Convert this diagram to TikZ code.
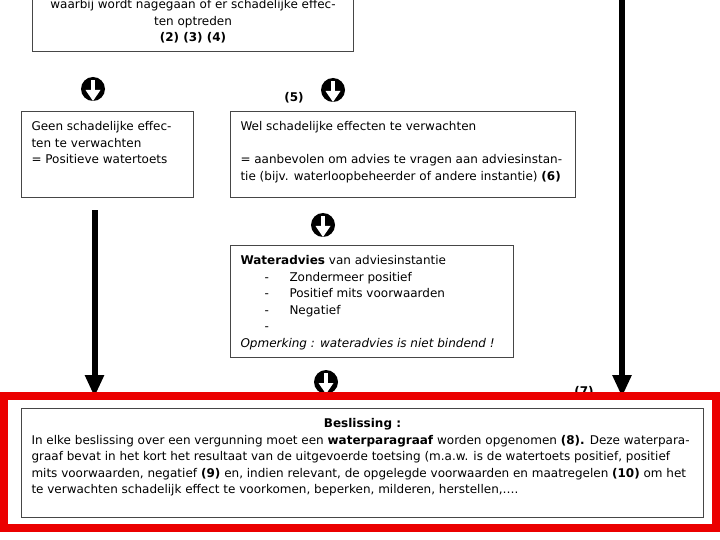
\documentclass[tikz,border=0pt]{standalone}
\usepackage{fontspec}
\setmainfont{DejaVu Sans}
\usetikzlibrary{positioning, arrows.meta}
\definecolor{framered}{RGB}{235,0,0}
\definecolor{boxgray}{RGB}{70,70,70}
\tikzset{
    infobox/.style={rectangle, draw=boxgray, line width=1bp, inner sep=10bp, anchor=north west, font=\fontsize{12bp}{16.5bp}\selectfont},
    downicon/.style={circle, fill=black, minimum size=24bp, inner sep=0pt, path picture={
        \fill[white] ([xshift=-2.2bp,yshift=9bp]path picture bounding box.center) rectangle ([xshift=2.2bp,yshift=-2bp]path picture bounding box.center);
        \fill[white] ([xshift=-7.5bp,yshift=-1bp]path picture bounding box.center) -- ([xshift=7.5bp,yshift=-1bp]path picture bounding box.center) -- ([yshift=-12bp]path picture bounding box.center) -- cycle;}},
    bigarrow/.style={line width=6bp, -{Triangle[width=18bp,length=22bp]}},
    numlabel/.style={font=\fontsize{12bp}{14bp}\selectfont\bfseries, inner sep=0pt}
}
\newcommand{\boxtext}[3]{\parbox[t][#1][t]{#2}{\raggedright #3}}
\newcommand{\dashitem}[1]{\hspace*{24bp}\makebox[25bp][l]{-}#1}

\begin{document}
\begin{tikzpicture}[x=1bp, y=-1bp]
    \useasboundingbox (0,0) rectangle (720,540);
    \clip (0,0) rectangle (720,540);

    \node (toets) [infobox, anchor=south, align=center, minimum width=320bp, inner ysep=8bp] at (193,52) {waarbij wordt nagegaan of er schadelijke effec-\\ten optreden\\\textbf{(2) (3) (4)}};

    \node (geen) [infobox] at (21,111) {\boxtext{66bp}{152bp}{Geen schadelijke effec-\\ten te verwachten\\= Positieve watertoets}};
    \node (wel) [infobox] at (230,111) {\boxtext{66bp}{325bp}{Wel schadelijke effecten te verwachten\\[16.5bp]= aanbevolen om advies te vragen aan adviesinstan-\\tie (bijv. waterloopbeheerder of andere instantie) \textbf{(6)}}};
    \node (advies) [infobox] at (230,245) {\boxtext{92bp}{263bp}{\textbf{Wateradvies} van adviesinstantie\\\dashitem{Zondermeer positief}\\\dashitem{Positief mits voorwaarden}\\\dashitem{Negatief}\\\dashitem{}\\\textit{Opmerking : wateradvies is niet bindend !}}};
    \node (besluit) [infobox] at (21,408) {\boxtext{89bp}{662bp}{\centerline{\textbf{Beslissing :}}In elke beslissing over een vergunning moet een \textbf{waterparagraaf} worden opgenomen \textbf{(8).} Deze waterpara-\\graaf bevat in het kort het resultaat van de uitgevoerde toetsing (m.a.w. is de watertoets positief, positief\\mits voorwaarden, negatief \textbf{(9)} en, indien relevant, de opgelegde voorwaarden en maatregelen \textbf{(10)} om het\\te verwachten schadelijk effect te voorkomen, beperken, milderen, herstellen,….}};

    \node (pijl1) [downicon] at (93,89) {};
    \node (pijl2) [downicon] at (333,90) {};
    \node (nr5) [numlabel] at (294,98) {(5)};
    \node (pijl3) [downicon] at (323,225) {};
    \node (pijl4) [downicon] at (326,382) {};
    \node (nr7) [numlabel] at (584,392) {(7)};

    \coordinate (bron) at (622,-5);
    \draw [bigarrow, shorten >=11bp] (bron) -- (bron |- besluit.north);
    \draw [bigarrow, shorten <=12bp, shorten >=11bp] ([xshift=-13bp]geen.south) -- ([xshift=-13bp]geen.south |- besluit.north);

    \draw [framered, line width=8bp] (4,396) rectangle (716,528);
\end{tikzpicture}
\end{document}
